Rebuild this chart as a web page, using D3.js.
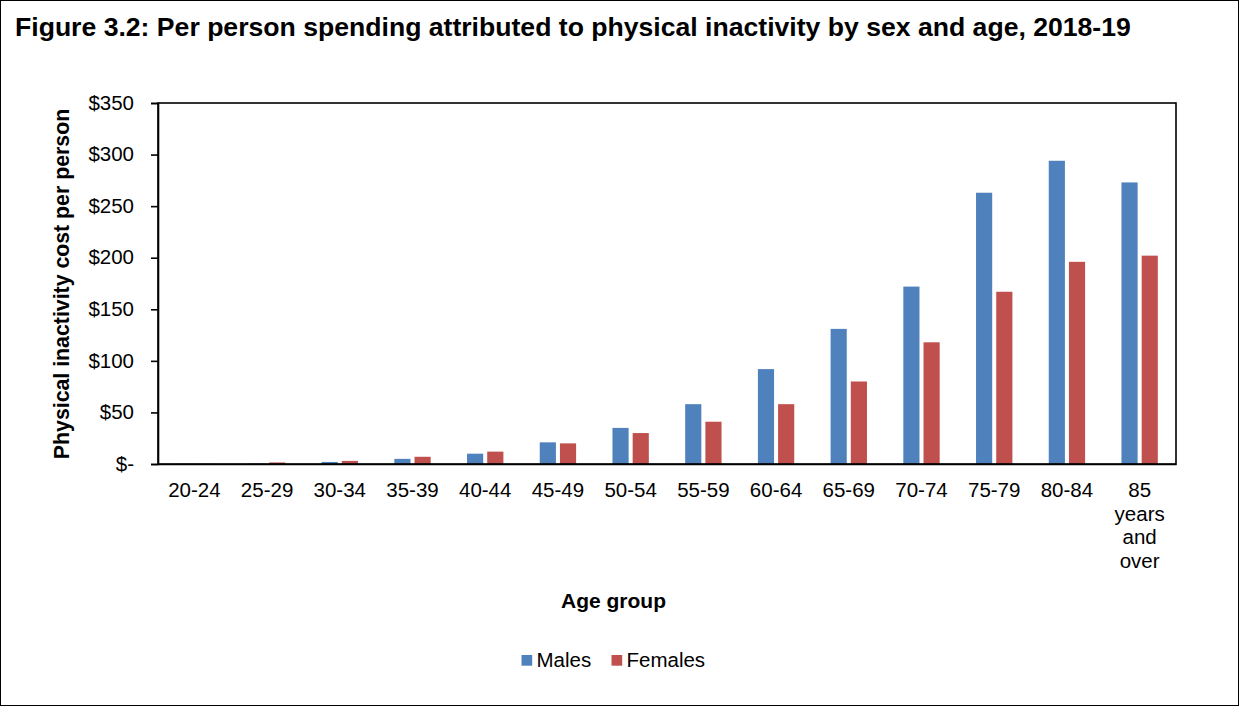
<!DOCTYPE html>
<html><head><meta charset="utf-8">
<script src="https://cdn.jsdelivr.net/npm/d3@7"></script>
<style>
html,body{margin:0;padding:0;background:#fff;}
svg{display:block;font-family:"Liberation Sans",Arial,sans-serif;}
</style></head>
<body>
<svg id="c" width="1239" height="706"></svg>
<script>
const categories = ["20-24","25-29","30-34","35-39","40-44","45-49","50-54","55-59","60-64","65-69","70-74","75-79","80-84","85 years and over"];
const males   = [0.2, 0.4, 2, 5, 10, 21, 35, 58, 92, 131, 172, 263, 294, 273];
const females = [0.2, 1.5, 3, 7, 12, 20, 30, 41, 58, 80, 118, 167, 196, 202];
const seriesNames = ["Males","Females"];
const colors = ["#4F81BD","#C0504D"];
const yTicks = [0,50,100,150,200,250,300,350];

const FS = 20.5;
const svg = d3.select("#c");
svg.append("rect").attr("x",0.5).attr("y",0.5).attr("width",1238).attr("height",705)
  .attr("fill","#fff").attr("stroke","#000").attr("stroke-width",1);

svg.append("text").attr("x",15).attr("y",36).attr("font-size",26.6).attr("font-weight","bold")
  .text("Figure 3.2: Per person spending attributed to physical inactivity by sex and age, 2018-19");

const L=158, R=1176, T=103, B=464;
const y = d3.scaleLinear().domain([0,350]).range([B,T]);
const x0 = d3.scaleBand().domain(categories).range([L,R]).paddingInner(0.5).paddingOuter(0.25);
const x1 = d3.scaleBand().domain(seriesNames).range([0,x0.bandwidth()]).paddingInner(0.2);

const data = categories.map((c,i)=>({cat:c, vals:[males[i],females[i]]}));
const g = svg.append("g");
data.forEach(d=>{
  d.vals.forEach((v,j)=>{
    g.append("rect").attr("x",x0(d.cat)+x1(seriesNames[j])).attr("width",x1.bandwidth())
      .attr("y",y(v)).attr("height",B-y(v)).attr("fill",colors[j]);
  });
});

// plot border
svg.append("rect").attr("x",L).attr("y",T).attr("width",R-L).attr("height",B-T)
  .attr("fill","none").attr("stroke","#000").attr("stroke-width",1.6);

// y axis
const yAxis = d3.axisLeft(y).tickValues(yTicks).tickSize(7).tickPadding(17)
  .tickFormat(d=> d===0 ? "$-" : "$"+d);
const ya = svg.append("g").attr("transform",`translate(${L},0)`).call(yAxis);
ya.select(".domain").attr("stroke","#000").attr("stroke-width",1.6);
ya.selectAll(".tick line").attr("stroke","#000").attr("stroke-width",1.6);
ya.selectAll("text").attr("font-size",FS).attr("fill","#000")
  .attr("font-family","Liberation Sans,Arial,sans-serif").attr("dy","0.3em");

// x axis
const xAxis = d3.axisBottom(x0).tickSize(0).tickPadding(0);
const xa = svg.append("g").attr("transform",`translate(0,${B})`).call(xAxis);
xa.select(".domain").attr("stroke","#000").attr("stroke-width",1.6);
xa.selectAll(".tick text").attr("font-size",FS).attr("fill","#000")
  .attr("font-family","Liberation Sans,Arial,sans-serif")
  .each(function(d){
    const t = d3.select(this);
    const words = d==="85 years and over" ? ["85","years","and","over"] : [d];
    t.text(null).attr("y",0).attr("dy",null);
    words.forEach((w,i)=>{
      t.append("tspan").attr("x",0).attr("y",33+i*23.5).text(w);
    });
  });

// axis titles
svg.append("text").attr("transform","translate(69,284) rotate(-90)").attr("text-anchor","middle")
  .attr("font-size",21.3).attr("font-weight","bold").text("Physical inactivity cost per person");
svg.append("text").attr("x",613.5).attr("y",608).attr("text-anchor","middle")
  .attr("font-size",21).attr("font-weight","bold").text("Age group");

// legend
const legX = [521.5, 611.5];
seriesNames.forEach((s,i)=>{
  svg.append("rect").attr("x",legX[i]).attr("y",655).attr("width",10.7).attr("height",10.7).attr("fill",colors[i]);
  svg.append("text").attr("x",legX[i]+15).attr("y",667).attr("font-size",FS).text(s);
});
</script>
</body></html>
